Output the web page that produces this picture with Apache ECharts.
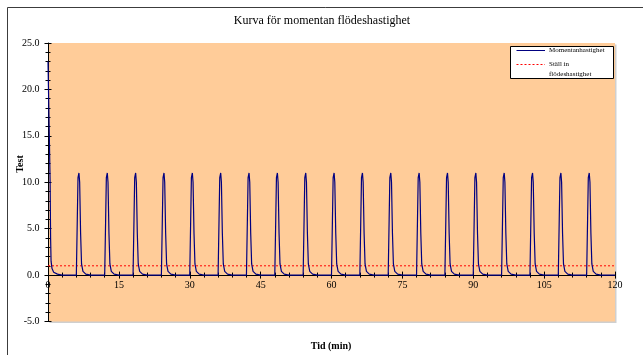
<!DOCTYPE html>
<html>
<head>
<meta charset="utf-8">
<title>Kurva för momentan flödeshastighet</title>
<script src="https://cdn.jsdelivr.net/npm/echarts@6/dist/echarts.min.js"></script>
<style>
  html, body { margin: 0; padding: 0; background: #ffffff; }
  #chart { width: 643px; height: 355px; }
</style>
</head>
<body>
<div id="chart"></div>
<script>
// Instantaneous flow rate (time in minutes, flow value)
const flowTime = [
  0, 0.25, 0.45, 0.55, 0.65, 0.85, 1.2, 2.0, 3.0,
  6.0, 6.2, 6.35, 6.55, 6.7, 6.9, 7.1, 7.4, 8.0, 9.0,
  12.0, 12.2, 12.35, 12.55, 12.7, 12.9, 13.1, 13.4, 14.0, 15.0,
  18.0, 18.2, 18.35, 18.55, 18.7, 18.9, 19.1, 19.4, 20.0, 21.0,
  24.0, 24.2, 24.35, 24.55, 24.7, 24.9, 25.1, 25.4, 26.0, 27.0,
  30.0, 30.2, 30.35, 30.55, 30.7, 30.9, 31.1, 31.4, 32.0, 33.0,
  36.0, 36.2, 36.35, 36.55, 36.7, 36.9, 37.1, 37.4, 38.0, 39.0,
  42.0, 42.2, 42.35, 42.55, 42.7, 42.9, 43.1, 43.4, 44.0, 45.0,
  48.0, 48.2, 48.35, 48.55, 48.7, 48.9, 49.1, 49.4, 50.0, 51.0,
  54.0, 54.2, 54.35, 54.55, 54.7, 54.9, 55.1, 55.4, 56.0, 57.0,
  60.0, 60.2, 60.35, 60.55, 60.7, 60.9, 61.1, 61.4, 62.0, 63.0,
  66.0, 66.2, 66.35, 66.55, 66.7, 66.9, 67.1, 67.4, 68.0, 69.0,
  72.0, 72.2, 72.35, 72.55, 72.7, 72.9, 73.1, 73.4, 74.0, 75.0,
  78.0, 78.2, 78.35, 78.55, 78.7, 78.9, 79.1, 79.4, 80.0, 81.0,
  84.0, 84.2, 84.35, 84.55, 84.7, 84.9, 85.1, 85.4, 86.0, 87.0,
  90.0, 90.2, 90.35, 90.55, 90.7, 90.9, 91.1, 91.4, 92.0, 93.0,
  96.0, 96.2, 96.35, 96.55, 96.7, 96.9, 97.1, 97.4, 98.0, 99.0,
  102.0, 102.2, 102.35, 102.55, 102.7, 102.9, 103.1, 103.4, 104.0, 105.0,
  108.0, 108.2, 108.35, 108.55, 108.7, 108.9, 109.1, 109.4, 110.0, 111.0,
  114.0, 114.2, 114.35, 114.55, 114.7, 114.9, 115.1, 115.4, 116.0, 117.0,
  120.0
];
const flowValue = [
  23, 23, 10, 4, 1.5, 0.7, 0.3, 0.1, 0,
  0, 6, 10.5, 11.0, 10, 4.5, 1.2, 0.4, 0.1, 0,
  0, 6, 10.5, 11.0, 10, 4.5, 1.2, 0.4, 0.1, 0,
  0, 6, 10.5, 11.0, 10, 4.5, 1.2, 0.4, 0.1, 0,
  0, 6, 10.5, 11.0, 10, 4.5, 1.2, 0.4, 0.1, 0,
  0, 6, 10.5, 11.0, 10, 4.5, 1.2, 0.4, 0.1, 0,
  0, 6, 10.5, 11.0, 10, 4.5, 1.2, 0.4, 0.1, 0,
  0, 6, 10.5, 11.0, 10, 4.5, 1.2, 0.4, 0.1, 0,
  0, 6, 10.5, 11.0, 10, 4.5, 1.2, 0.4, 0.1, 0,
  0, 6, 10.5, 11.0, 10, 4.5, 1.2, 0.4, 0.1, 0,
  0, 6, 10.5, 11.0, 10, 4.5, 1.2, 0.4, 0.1, 0,
  0, 6, 10.5, 11.0, 10, 4.5, 1.2, 0.4, 0.1, 0,
  0, 6, 10.5, 11.0, 10, 4.5, 1.2, 0.4, 0.1, 0,
  0, 6, 10.5, 11.0, 10, 4.5, 1.2, 0.4, 0.1, 0,
  0, 6, 10.5, 11.0, 10, 4.5, 1.2, 0.4, 0.1, 0,
  0, 6, 10.5, 11.0, 10, 4.5, 1.2, 0.4, 0.1, 0,
  0, 6, 10.5, 11.0, 10, 4.5, 1.2, 0.4, 0.1, 0,
  0, 6, 10.5, 11.0, 10, 4.5, 1.2, 0.4, 0.1, 0,
  0, 6, 10.5, 11.0, 10, 4.5, 1.2, 0.4, 0.1, 0,
  0, 6, 10.5, 11.0, 10, 4.5, 1.2, 0.4, 0.1, 0,
  0
];

// Flow rate setpoint
const setTime = [0, 120];
const setValue = [1.0, 1.0];

// Axis ranges
const xMin = 0, xMax = 120, xStep = 15;
const yMin = -5, yMax = 25, yStep = 5;

const titleText = 'Kurva för momentan flödeshastighet';
const xTitle = 'Tid (min)';
const yTitle = 'Test';
const seriesNames = ['Momentanhastighet', 'Ställ in flödeshastighet'];
const legendLabels = [['Momentanhastighet'], ['Ställ in', 'flödeshastighet']];

const SERIF = '"Liberation Serif", "DejaVu Serif", serif';

const zip = (xs, ys) => xs.map((x, i) => [x, ys[i]]);

// plot area box
const GRID = { left: 48, right: 28, top: 43, bottom: 33.5 };
const CHART_H = 355;
const plotH = CHART_H - GRID.top - GRID.bottom;
// the time axis crosses the value axis at 0: lift it from the bottom edge by that share of the plot height
const xAxisLift = -plotH * (0 - yMin) / (yMax - yMin);

const chart = echarts.init(document.getElementById('chart'), null, { renderer: 'canvas' });

const baseX = {
  type: 'value', min: xMin, max: xMax, interval: xStep,
  position: 'bottom', offset: xAxisLift, splitLine: { show: false }
};
const baseY = {
  type: 'value', min: yMin, max: yMax, interval: yStep,
  position: 'left', splitLine: { show: false }
};

chart.setOption({
  animation: false,
  backgroundColor: '#ffffff',
  grid: Object.assign({}, GRID, {
    show: true,
    backgroundColor: '#FFCC99',
    borderWidth: 0,
    shadowColor: '#cfcfcf',
    shadowOffsetX: 1.5,
    shadowOffsetY: 1.5,
    shadowBlur: 0
  }),
  xAxis: [
    Object.assign({}, baseX, {
      axisLine: { show: true, onZero: false, lineStyle: { color: '#000000', width: 1 } },
      axisTick: { show: true, length: 3.5, lineStyle: { color: '#000000' } },
      minorTick: { show: true, splitNumber: 5, length: 2.5, lineStyle: { color: '#000000' } },
      axisLabel: {
        margin: 5, color: '#000000', fontFamily: SERIF, fontSize: 10,
        showMinLabel: true, showMaxLabel: true
      }
    }),
    Object.assign({}, baseX, {
      axisLine: { show: false, onZero: false },
      axisTick: { show: true, inside: true, length: 3.5, lineStyle: { color: '#000000' } },
      minorTick: { show: true, splitNumber: 5, length: 2.5, lineStyle: { color: '#000000' } },
      axisLabel: { show: false }
    })
  ],
  yAxis: [
    Object.assign({}, baseY, {
      axisLine: { show: true, onZero: false, lineStyle: { color: '#000000', width: 1 } },
      axisTick: { show: true, length: 3.5, lineStyle: { color: '#000000' } },
      minorTick: { show: true, splitNumber: 5, length: 2.5, lineStyle: { color: '#000000' } },
      axisLabel: {
        margin: 8.5, color: '#000000', fontFamily: SERIF, fontSize: 10,
        formatter: v => v.toFixed(1)
      }
    }),
    Object.assign({}, baseY, {
      axisLine: { show: false, onZero: false },
      axisTick: { show: true, inside: true, length: 3.5, lineStyle: { color: '#000000' } },
      minorTick: { show: true, splitNumber: 5, length: 2.5, lineStyle: { color: '#000000' } },
      axisLabel: { show: false }
    })
  ],
  series: [
    {
      name: seriesNames[0],
      type: 'line',
      xAxisIndex: 0, yAxisIndex: 0,
      data: zip(flowTime, flowValue),
      showSymbol: false,
      lineStyle: { color: '#000080', width: 1.2 },
      itemStyle: { color: '#000080' },
      z: 3
    },
    {
      name: seriesNames[1],
      type: 'line',
      xAxisIndex: 0, yAxisIndex: 0,
      data: zip(setTime, setValue),
      showSymbol: false,
      lineStyle: { color: '#FF0000', width: 1, type: [2, 2] },
      itemStyle: { color: '#FF0000' },
      z: 2
    }
  ],
  graphic: [
    // outer chart frame
    {
      type: 'rect', silent: true, z: -1,
      shape: { x: 7.5, y: 7.5, width: 700, height: 400 },
      style: { fill: null, stroke: '#3c3c3c', lineWidth: 1 }
    },
    {
      type: 'text', silent: true,
      x: 322, y: 21,
      style: {
        text: titleText, font: '12px ' + SERIF, fill: '#000000',
        align: 'center', verticalAlign: 'middle'
      }
    },
    {
      type: 'text', silent: true,
      x: 20.5, y: 164, rotation: Math.PI / 2,
      style: {
        text: yTitle, font: 'bold 10px ' + SERIF, fill: '#000000',
        align: 'center', verticalAlign: 'middle'
      }
    },
    {
      type: 'text', silent: true,
      x: 331, y: 346,
      style: {
        text: xTitle, font: 'bold 10px ' + SERIF, fill: '#000000',
        align: 'center', verticalAlign: 'middle'
      }
    },
    // legend box
    {
      type: 'group', x: 510.5, y: 46.5, z: 10,
      children: [
        {
          type: 'rect', silent: true,
          shape: { x: 0, y: 0, width: 103, height: 32 },
          style: { fill: '#ffffff', stroke: '#000000', lineWidth: 1 }
        },
        {
          type: 'line', silent: true,
          shape: { x1: 6, y1: 4, x2: 34.5, y2: 4 },
          style: { stroke: '#000080', lineWidth: 1 }
        },
        {
          type: 'text', silent: true, x: 38.5, y: 4,
          style: { text: legendLabels[0][0], font: '7px ' + SERIF, fill: '#000000', verticalAlign: 'middle' }
        },
        {
          type: 'line', silent: true,
          shape: { x1: 6, y1: 18, x2: 34.5, y2: 18 },
          style: { stroke: '#FF0000', lineWidth: 1, lineDash: [2, 2] }
        },
        {
          type: 'text', silent: true, x: 38.5, y: 18,
          style: { text: legendLabels[1][0], font: '7px ' + SERIF, fill: '#000000', verticalAlign: 'middle' }
        },
        {
          type: 'text', silent: true, x: 38.5, y: 27.5,
          style: { text: legendLabels[1][1], font: '7px ' + SERIF, fill: '#000000', verticalAlign: 'middle' }
        }
      ]
    }
  ]
});
</script>
</body>
</html>
